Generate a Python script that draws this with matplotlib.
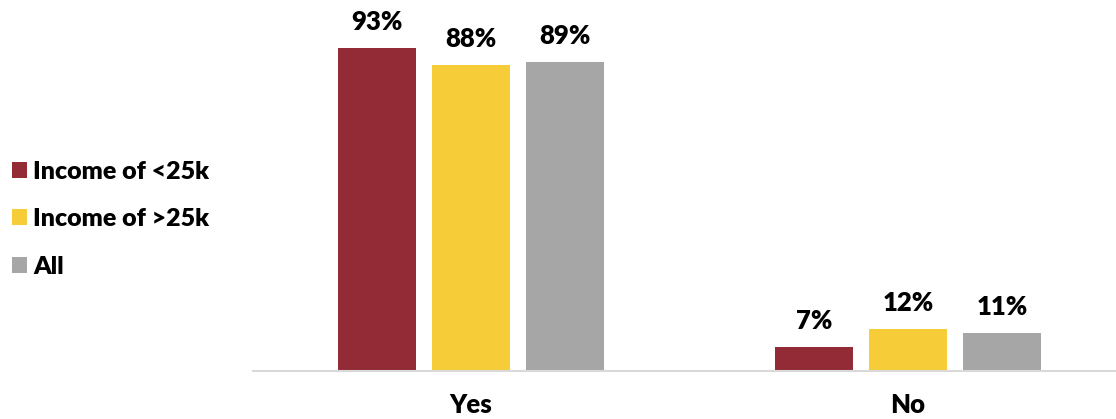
"""Grouped bar chart: share answering Yes / No by income group."""

import matplotlib
matplotlib.use("Agg")
import matplotlib.pyplot as plt
import numpy as np

plt.rcParams["font.family"] = ["Lato", "DejaVu Sans"]
plt.rcParams["font.weight"] = "heavy"

categories = ["Yes", "No"]
series_names = ["Income of <25k", "Income of >25k", "All"]
low_income = [93, 7]
high_income = [88, 12]
all_resp = [89, 11]

COLORS = ["#922B35", "#F6CD38", "#A6A6A6"]
FS = 18.5


def main():
    fig = plt.figure(figsize=(11.16, 4.19), dpi=100)
    ax = fig.add_axes([253 / 1116, 1 - 371 / 419, 1 - 253 / 1116, 371 / 419])

    x = np.arange(len(categories))
    width = 0.1785
    step = 0.215
    for i, (vals, name, col) in enumerate(zip([low_income, high_income, all_resp],
                                               series_names, COLORS)):
        pos = x + (i - 1) * step
        bars = ax.bar(pos, vals, width=width, color=col, label=name)
        for b, v in zip(bars, vals):
            ax.text(b.get_x() + b.get_width() / 2, v + 4.0, f"{v}%",
                    ha="center", va="bottom", fontsize=FS, fontweight="heavy")

    ax.set_xlim(-0.499, 1.476)
    ax.set_ylim(0, 106.8)
    ax.set_xticks(x)
    ax.set_xticklabels(categories, fontsize=FS, fontweight="heavy")
    ax.tick_params(axis="x", length=0, pad=16)
    ax.set_yticks([])
    for s in ("top", "right", "left"):
        ax.spines[s].set_visible(False)
    ax.spines["bottom"].set_color("#D9D9D9")
    ax.spines["bottom"].set_linewidth(1.5)

    handles, labels = ax.get_legend_handles_labels()
    fig.legend(handles, labels, loc="center left", bbox_to_anchor=(0.0015, 1 - 219 / 419),
               frameon=False, fontsize=18, handlelength=0.6, handleheight=0.6,
               handletextpad=0.25, labelspacing=1.02, borderaxespad=0)

    fig.savefig("out.png", dpi=100)
    plt.close(fig)


if __name__ == "__main__":
    main()
